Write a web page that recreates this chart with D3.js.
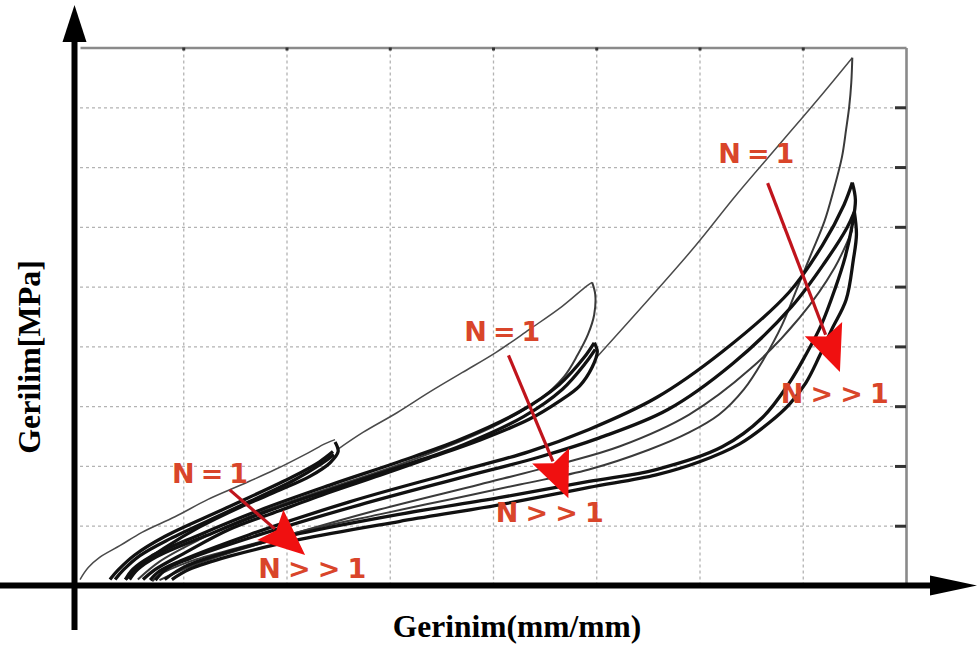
<!DOCTYPE html>
<html>
<head>
<meta charset="utf-8">
<script src="https://cdn.jsdelivr.net/npm/d3@7"></script>
<style>
  body { margin: 0; background: #fff; }
  svg { display: block; }
</style>
</head>
<body>
<svg id="chart" width="977" height="648"></svg>
<script>
// grid positions (no tick labels in the original)
const TICK_X = [1, 2, 3, 4, 5, 6, 7];
const TICK_Y = [1, 2, 3, 4, 5, 6, 7, 8];

// first loading (virgin) curve, in three pieces
const virginA = [[0.00,0.10],[0.08,0.30],[0.19,0.47],[0.39,0.67],[0.60,0.89],[0.92,1.15],[1.24,1.44],[1.57,1.69],[1.89,1.94],[2.21,2.22],[2.37,2.37],[2.47,2.44]];
const virginB = [[2.49,2.27],[2.74,2.56],[3.07,2.89],[3.38,3.23],[3.70,3.56],[4.03,3.90],[4.35,4.28],[4.67,4.67],[4.90,5.00],[4.96,5.07]];
const virginC = [[5.00,3.81],[5.93,5.62],[6.35,6.52],[6.80,7.43],[7.16,8.16],[7.48,8.83]];

// level 1 cycles
const reloadA = [[0.29,0.10],[0.37,0.26],[0.53,0.51],[0.82,0.82],[1.42,1.30],[2.06,1.82],[2.32,2.07],[2.45,2.24]];
const reloadA2 = [[0.34,0.10],[0.42,0.26],[0.58,0.50],[0.87,0.78],[1.45,1.25],[2.08,1.77],[2.34,2.04],[2.46,2.19]];
const unloadA1 = [[2.47,2.40],[2.50,2.24],[2.42,2.05],[2.23,1.83],[1.94,1.60],[1.55,1.31],[1.16,0.98],[0.82,0.63],[0.58,0.34],[0.44,0.10]];

// level 2 cycles
const reloadB = [[0.44,0.10],[0.51,0.27],[0.68,0.48],[1.16,0.85],[1.74,1.26],[2.42,1.68],[3.09,2.07],[3.68,2.44],[4.26,2.91],[4.64,3.36],[4.88,3.81],[4.98,4.06]];
const reloadB2 = [[0.48,0.10],[0.56,0.27],[0.74,0.48],[1.23,0.84],[1.81,1.24],[2.49,1.64],[3.14,2.01],[3.72,2.36],[4.30,2.83],[4.67,3.28],[4.90,3.73],[4.99,3.95]];
const unloadB1 = [[4.96,5.07],[4.99,4.87],[4.98,4.53],[4.92,4.20],[4.82,3.86],[4.69,3.50],[4.45,3.11],[4.06,2.71],[3.58,2.34],[3.09,2.02],[2.61,1.74],[2.13,1.46],[1.64,1.15],[1.16,0.77],[0.77,0.40],[0.56,0.10]];
const unloadB2 = [[4.98,4.06],[5.01,3.91],[4.96,3.65],[4.84,3.34],[4.64,3.08],[4.35,2.78],[3.87,2.43],[3.38,2.13],[2.90,1.84],[2.42,1.56],[1.93,1.25],[1.45,0.94],[1.02,0.55],[0.73,0.27],[0.61,0.10]];

// level 3 cycles
const reloadC2 = [[0.68,0.09],[0.77,0.24],[0.97,0.41],[1.64,0.85],[2.61,1.40],[3.58,1.87],[4.35,2.24],[4.93,2.61],[5.58,3.14],[6.22,3.91],[6.87,4.91],[7.19,5.69],[7.40,6.37],[7.48,6.74]];
const reloadC3 = [[0.73,0.09],[0.84,0.28],[1.06,0.45],[1.74,0.85],[2.71,1.35],[3.68,1.80],[4.45,2.15],[5.03,2.47],[5.69,2.94],[6.32,3.71],[6.89,4.66],[7.22,5.42],[7.43,5.99],[7.50,6.25]];
const reloadC4 = [[0.77,0.09],[1.16,0.38],[1.94,0.80],[2.90,1.27],[3.87,1.69],[4.64,2.03],[5.23,2.33],[5.90,2.86],[6.49,3.62],[6.97,4.48],[7.31,5.32],[7.48,5.95]];
const unloadC1 = [[7.48,8.83],[7.47,8.41],[7.45,8.01],[7.42,7.63],[7.38,7.17],[7.30,6.62],[7.21,6.09],[7.08,5.54],[6.94,4.95],[6.80,4.36],[6.62,3.78],[6.43,3.28],[6.19,2.86],[5.90,2.56],[5.51,2.27],[4.93,1.94],[4.26,1.69],[3.58,1.44],[2.90,1.19],[2.13,0.90],[1.55,0.64],[1.06,0.40],[0.77,0.18],[0.70,0.07]];
const unloadC2 = [[7.48,6.74],[7.51,6.45],[7.48,6.04],[7.41,5.49],[7.31,4.95],[7.18,4.36],[7.03,3.86],[6.87,3.39],[6.61,2.81],[6.22,2.32],[5.58,1.94],[4.93,1.74],[4.06,1.47],[3.09,1.19],[2.13,0.87],[1.45,0.57],[1.02,0.32],[0.82,0.10]];
const unloadC3 = [[7.50,6.25],[7.52,5.87],[7.49,5.45],[7.42,4.78],[7.28,4.28],[7.16,3.83],[7.03,3.39],[6.87,3.03],[6.68,2.73],[6.39,2.37],[6.00,2.07],[5.58,1.85],[4.93,1.64],[4.06,1.35],[3.09,1.07],[2.13,0.77],[1.45,0.49],[1.06,0.27],[0.89,0.10]];

// annotations: arrows N=1 -> N>>1 and their labels
const arrowFrom = [[1.45,1.60],[4.15,3.85],[6.66,6.73]];
const arrowTo = [[2.18,0.51],[4.73,1.46],[7.36,3.57]];
const labelFirst = [[1.26,1.71],[4.09,4.09],[6.55,7.07]];
const labelMany = [[2.25,0.13],[4.55,1.06],[7.31,3.05]];

const thinCurves = [virginA, virginB, virginC];
const greyCurves = [unloadB1, unloadC1, reloadC4];
const blackCurves = [reloadA, reloadA2, unloadA1, reloadB, reloadB2, unloadB2, reloadC2, reloadC3, unloadC2, unloadC3];

let svg = d3.select('#chart');
let x = d3.scaleLinear().domain([0, 8]).range([80, 906]);
let y = d3.scaleLinear().domain([0, 9]).range([585.5, 47.5]);

// dotted grid
let gx = svg.append('g')
    .attr('transform', `translate(0,${y(0)})`)
    .call(d3.axisBottom(x).tickValues(TICK_X).tickSize(-(y(0) - y(9))).tickFormat(''));
let gy = svg.append('g')
    .attr('transform', `translate(${x(0)},0)`)
    .call(d3.axisLeft(y).tickValues(TICK_Y).tickSize(-(x(8) - x(0))).tickFormat(''));
[gx, gy].forEach((g) => {
  g.select('.domain').remove();
  g.selectAll('line')
      .attr('stroke', '#b3b3b3')
      .attr('stroke-width', 1.3)
      .attr('stroke-dasharray', '3,3');
});

// plot frame with small inner ticks
let frameTop = svg.append('g')
    .attr('transform', `translate(0,${y(9)})`)
    .call(d3.axisTop(x).tickValues(TICK_X).tickSize(-3).tickSizeOuter(0).tickFormat(''));
let frameRight = svg.append('g')
    .attr('transform', `translate(${x(8)},0)`)
    .call(d3.axisRight(y).tickValues(TICK_Y).tickSize(-11).tickSizeOuter(0).tickFormat(''));
[frameTop, frameRight].forEach((g) => {
  g.select('.domain').attr('stroke', '#8a8a8a').attr('stroke-width', 2.6);
  g.selectAll('line').attr('stroke', '#333').attr('stroke-width', 3);
});

// hysteresis curves
let line = d3.line()
    .x((d) => x(d[0]))
    .y((d) => y(d[1]))
    .curve(d3.curveCatmullRom.alpha(0.5));

svg.append('g').selectAll('path')
    .data(thinCurves)
    .enter()
    .append('path')
      .attr('d', line)
      .attr('fill', 'none')
      .attr('stroke', '#4a4a4a')
      .attr('stroke-width', 1.5);

svg.append('g').selectAll('path')
    .data(greyCurves)
    .enter()
    .append('path')
      .attr('d', line)
      .attr('fill', 'none')
      .attr('stroke', '#3a3a3a')
      .attr('stroke-width', 2);

svg.append('g').selectAll('path')
    .data(blackCurves)
    .enter()
    .append('path')
      .attr('d', line)
      .attr('fill', 'none')
      .attr('stroke', '#111')
      .attr('stroke-width', 3.3);

// big black axes with arrow heads
let ax = x(0) - 5.5;
svg.append('line')
    .attr('x1', ax).attr('x2', ax)
    .attr('y1', 630).attr('y2', 38)
    .attr('stroke', '#000').attr('stroke-width', 6);
svg.append('path')
    .attr('d', `M${ax},5L${ax + 12},42L${ax - 12},42Z`)
    .attr('fill', '#000');
svg.append('line')
    .attr('x1', 0).attr('x2', 935)
    .attr('y1', y(0)).attr('y2', y(0))
    .attr('stroke', '#000').attr('stroke-width', 6);
svg.append('path')
    .attr('d', `M977,${y(0)}L930,${y(0) - 10}L930,${y(0) + 10}Z`)
    .attr('fill', '#000');

// red arrows
arrowFrom.forEach((s, i) => {
  let x0 = x(s[0]), y0 = y(s[1]);
  let x1 = x(arrowTo[i][0]), y1 = y(arrowTo[i][1]);
  let len = Math.hypot(x1 - x0, y1 - y0);
  let ux = (x1 - x0) / len, uy = (y1 - y0) / len;
  let headLen = 46, half = 20;
  let bx = x1 - ux * headLen, by = y1 - uy * headLen;
  svg.append('line')
      .attr('x1', x0).attr('y1', y0)
      .attr('x2', bx + ux * 6).attr('y2', by + uy * 6)
      .attr('stroke', '#c0141c')
      .attr('stroke-width', 3.2);
  svg.append('path')
      .attr('d', `M${x1},${y1}L${bx - uy * half},${by + ux * half}L${bx + ux * 8},${by + uy * 8}L${bx + uy * half},${by - ux * half}Z`)
      .attr('fill', '#f01010');
});

// N=1 / N>>1 labels
let labels = labelFirst.map((d) => ({ p: d, t: 'N=1', w: 76 }))
  .concat(labelMany.map((d) => ({ p: d, t: 'N>>1', w: 108 })));
svg.append('g').selectAll('text')
    .data(labels)
    .enter()
    .append('text')
      .attr('x', (d) => x(d.p[0]) - d.w / 2)
      .attr('y', (d) => y(d.p[1]))
      .attr('textLength', (d) => d.w)
      .attr('lengthAdjust', 'spacing')
      .style('font-family', '"DejaVu Sans", sans-serif')
      .style('font-weight', 'bold')
      .style('font-size', '27px')
      .style('fill', '#d9452a')
      .text((d) => d.t);

// axis titles
svg.append('text')
    .attr('transform', 'translate(29,357)rotate(-90)')
    .attr('text-anchor', 'middle')
    .attr('dominant-baseline', 'central')
    .style('font-family', '"Liberation Serif", "Times New Roman", serif')
    .style('font-weight', 'bold')
    .style('font-size', '32px')
    .text('Gerilim[MPa]');
svg.append('text')
    .attr('x', 517)
    .attr('y', 637)
    .attr('text-anchor', 'middle')
    .style('font-family', '"Liberation Serif", "Times New Roman", serif')
    .style('font-weight', 'bold')
    .style('font-size', '31.5px')
    .text('Gerinim(mm/mm)');
</script>
</body>
</html>
